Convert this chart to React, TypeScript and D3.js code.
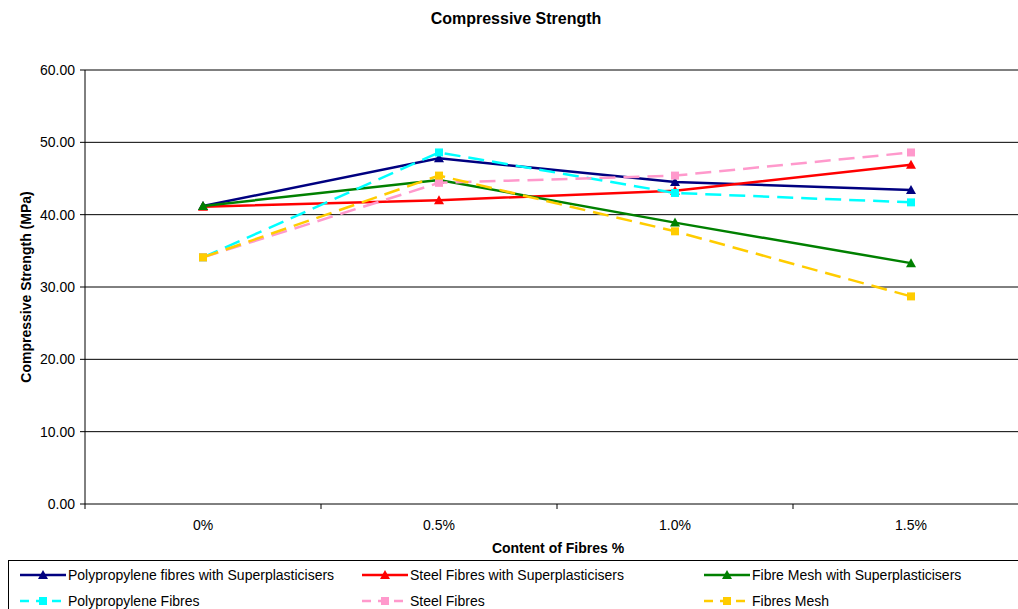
import React from "react";
import * as d3 from "d3";

const categories = ["0%", "0.5%", "1.0%", "1.5%"];
const yTicks = [0, 10, 20, 30, 40, 50, 60];
const seriesNames = [
  "Polypropylene fibres with Superplasticisers",
  "Steel Fibres with Superplasticisers",
  "Fibre Mesh with Superplasticisers",
  "Polypropylene Fibres",
  "Steel Fibres",
  "Fibres Mesh",
];
const ppSP = [41.2, 47.8, 44.5, 43.4];
const steelSP = [41.1, 42.0, 43.3, 46.9];
const meshSP = [41.2, 44.8, 38.9, 33.3];
const ppF = [34.1, 48.6, 43.0, 41.7];
const steelF = [34.1, 44.4, 45.4, 48.6];
const meshF = [34.1, 45.4, 37.7, 28.7];
const seriesValues = [ppSP, steelSP, meshSP, ppF, steelF, meshF];
const seriesColors = ["#000080", "#FF0000", "#008000", "#00FFFF", "#FF99CC", "#FFCC00"];
const seriesDashed = [false, false, false, true, true, true];
const seriesMarker = ["tri", "tri", "tri", "sq", "sq", "sq"];

const W = 1018;
const H = 609;
const plotL = 85;
const plotR = 1029;
const plotT = 70;
const plotB = 504;

function Marker({ type, x, y, color }: { type: string; x: number; y: number; color: string }) {
  if (type === "tri") {
    const s = 5;
    return <path d={`M${x},${y - s}L${x + s},${y + s * 0.8}L${x - s},${y + s * 0.8}Z`} fill={color} />;
  }
  return <rect x={x - 4} y={y - 4} width={8} height={8} fill={color} />;
}

export default function App() {
  const x = d3.scaleBand<string>().domain(categories).range([plotL, plotR]).padding(0);
  const y = d3.scaleLinear().domain([0, 60]).range([plotB, plotT]);
  const cx = (c: string) => (x(c) as number) + x.bandwidth() / 2;
  const line = d3
    .line<number>()
    .x((_, i) => cx(categories[i]))
    .y((d) => y(d));
  const font = "'Liberation Sans', Arial, sans-serif";
  const legendCols = [20, 362, 704];
  const legendRows = [575, 601];

  return (
    <svg width={W} height={H} style={{ position: "absolute", left: 0, top: 0, fontFamily: font }}>
      <rect x={0} y={0} width={W} height={H} fill="#fff" />
      <text x={516} y={24} textAnchor="middle" fontSize={16} fontWeight="bold">
        Compressive Strength
      </text>
      {yTicks.map((t) => (
        <g key={t}>
          <line x1={plotL} x2={plotR} y1={y(t)} y2={y(t)} stroke="#000" strokeWidth={1} />
          <line x1={plotL - 5} x2={plotL} y1={y(t)} y2={y(t)} stroke="#000" />
          <text x={plotL - 10} y={y(t) + 5} textAnchor="end" fontSize={14}>
            {t.toFixed(2)}
          </text>
        </g>
      ))}
      <line x1={plotL} x2={plotL} y1={plotT} y2={plotB} stroke="#000" />
      {categories.map((c, i) => (
        <g key={c}>
          {i > 0 && <line x1={x(c)} x2={x(c)} y1={plotB} y2={plotB + 5} stroke="#000" />}
          <text x={cx(c)} y={plotB + 26} textAnchor="middle" fontSize={14}>
            {c}
          </text>
        </g>
      ))}
      <line x1={plotL} x2={plotL} y1={plotB} y2={plotB + 5} stroke="#000" />
      <text x={558} y={553} textAnchor="middle" fontSize={14} fontWeight="bold">
        Content of Fibres %
      </text>
      <text
        transform={`translate(31,${(plotT + plotB) / 2}) rotate(-90)`}
        textAnchor="middle"
        fontSize={14}
        fontWeight="bold"
      >
        Compressive Strength (MPa)
      </text>
      {seriesValues.map((vals, si) => (
        <g key={si}>
          <path
            d={line(vals) || ""}
            fill="none"
            stroke={seriesColors[si]}
            strokeWidth={2.5}
            strokeDasharray={seriesDashed[si] ? "16,8" : undefined}
          />
          {vals.map((v, i) => (
            <Marker key={i} type={seriesMarker[si]} x={cx(categories[i])} y={y(v)} color={seriesColors[si]} />
          ))}
        </g>
      ))}
      <rect x={8.5} y={560.5} width={1030} height={60} fill="none" stroke="#000" />
      {seriesNames.map((n, i) => {
        const lx = legendCols[i % 3];
        const ly = legendRows[Math.floor(i / 3)];
        return (
          <g key={n}>
            <line
              x1={lx}
              x2={lx + 46}
              y1={ly}
              y2={ly}
              stroke={seriesColors[i]}
              strokeWidth={2.5}
              strokeDasharray={seriesDashed[i] ? "9,7" : undefined}
            />
            <Marker type={seriesMarker[i]} x={lx + 23} y={ly} color={seriesColors[i]} />
            <text x={lx + 48} y={ly + 5} fontSize={14}>
              {n}
            </text>
          </g>
        );
      })}
    </svg>
  );
}
